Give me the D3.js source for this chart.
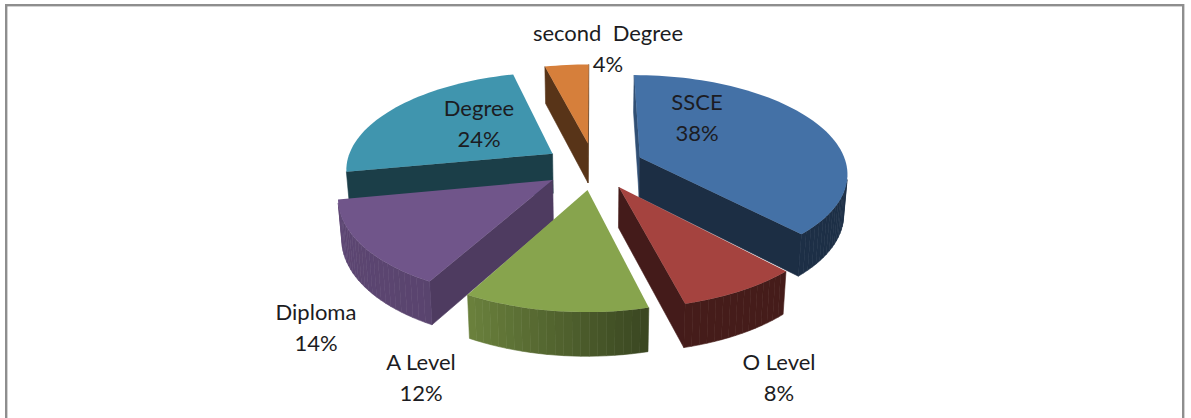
<!DOCTYPE html>
<html>
<head>
<meta charset="utf-8">
<script src="https://cdn.jsdelivr.net/npm/d3@7"></script>
<style>
html, body { margin: 0; padding: 0; background: #fff; overflow: hidden; }
text { font-family: Lato, "Open Sans", sans-serif; font-size: 22px; fill: #1c1c22; text-anchor: middle; white-space: pre; }
</style>
</head>
<body>
<svg id="myGraph" width="1191" height="418"></svg>
<script>
var categories = ["SSCE", "O Level", "A Level", "Diploma", "Degree", "second  Degree"];
var shares = [38, 8, 12, 14, 24, 4];
var sliceColors = ["#4471a6", "#a5433f", "#87a44d", "#70558a", "#4095ae", "#d67f3b"];

var svgWidth = 1191;
var svgHeight = 418;
var centerX = 594;
var centerY = 166;
var radius = 207;
var explode = 50;
var tilt = 0.467;		// flattening of the pie plane
var perspective = 0.145;	// how much nearer points grow
var depth = 40;			// wall height
var lineGap = 31;

// label centres, first line
var labelX = [697, 779, 421, 316, 479, 608];
var labelY = [102, 362, 362, 312, 108, 33];

var svg = d3.select("#myGraph");

// frame, open at the bottom edge
svg.append("rect")
	.attr("x", 6.2).attr("y", 5.2)
	.attr("width", 1177).attr("height", svgHeight + 20)
	.attr("fill", "none")
	.attr("stroke", "#8e8e8e")
	.attr("stroke-width", 2.4);

var pie = d3.pie().sort(null);
var slices = pie(shares).map(function(d, i){
	d.mid = (d.startAngle + d.endAngle) / 2;
	d.color = sliceColors[i];
	return d;
});

var path = d3.line();

// wall brightness: the outer wall by its own angle, the cut faces by where they point
var outerShade = d3.scaleLinear()
	.domain([165, 210, 260].map(deg))
	.range([0.42, 0.8, 0.84])
	.clamp(true);
var cutShade = d3.scaleLinear()
	.domain([118, 170].map(deg))
	.range([0.7, 0.41])
	.clamp(true);

function deg(a){ return a * Math.PI / 180; }

function shade(color, f){
	var c = d3.rgb(color);
	return d3.rgb(c.r * f, c.g * f, c.b * f).formatHex();
}

// plane point -> screen, lower=true gives the point on the bottom of the wall
function project(wx, wy, lower){
	var s = 1 / (1 - perspective * wy / radius);
	return [
		centerX + wx * s * (lower ? 0.985 : 1),
		centerY + tilt * wy * s + (lower ? depth * Math.sqrt(s) : 0)
	];
}

function point(d, angle, r, lower){
	return project(
		explode * Math.sin(d.mid) + r * Math.sin(angle),
		-explode * Math.cos(d.mid) - r * Math.cos(angle),
		lower);
}

function wall(g, a1, r1, a2, r2, d, fill){
	var quad = [point(d, a1, r1, false), point(d, a2, r2, false),
		point(d, a2, r2, true), point(d, a1, r1, true)];
	if (d3.polygonArea(quad) <= 0) return;	// faces away
	g.append("path")
		.attr("d", path(quad) + "Z")
		.attr("fill", fill)
		.attr("stroke", fill)
		.attr("stroke-width", 0.6);
}

// back slices first so the front ones overlap them
var order = slices.slice().sort(function(a, b){
	return Math.cos(b.mid) - Math.cos(a.mid);
});

order.forEach(function(d){
	var g = svg.append("g").attr("class", "slice");
	var steps = Math.ceil((d.endAngle - d.startAngle) / deg(2));
	var angles = d3.range(steps + 1).map(function(k){
		return d.startAngle + (d.endAngle - d.startAngle) * k / steps;
	});

	// the two cut faces
	wall(g, d.startAngle, 0, d.startAngle, radius, d, shade(d.color, cutShade(d.startAngle - Math.PI / 2)));
	wall(g, d.endAngle, radius, d.endAngle, 0, d, shade(d.color, cutShade(d.endAngle + Math.PI / 2)));

	// outer wall in thin strips
	for (var k = 0; k < steps; k++) {
		var m = (angles[k] + angles[k + 1]) / 2;
		wall(g, angles[k], radius, angles[k + 1], radius, d, shade(d.color, outerShade(m)));
	}

	// top
	var top = [point(d, 0, 0, false)].concat(angles.map(function(a){
		return point(d, a, radius, false);
	}));
	g.append("path")
		.attr("d", path(top) + "Z")
		.attr("fill", d.color);
});

// labels on top of everything
categories.forEach(function(name, i){
	svg.append("text").attr("x", labelX[i]).attr("y", labelY[i] + 7.5).text(name);
	svg.append("text").attr("x", labelX[i]).attr("y", labelY[i] + lineGap + 7.5).text(shares[i] + "%");
});
</script>
</body>
</html>
